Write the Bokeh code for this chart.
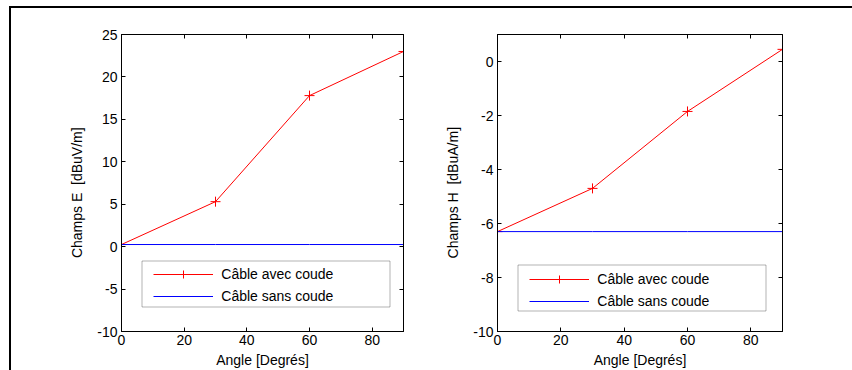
from bokeh.plotting import figure
from bokeh.models import Range1d, FixedTicker, LinearAxis, Legend, LegendItem, BoxAnnotation
from bokeh.layouts import row
from bokeh.embed import file_html
from bokeh.resources import INLINE

# ---- data ----
angles = [0, 30, 60, 90]
e_avec = [0.25, 5.3, 17.8, 23.0]
e_sans = [0.25, 0.25, 0.25, 0.25]
h_avec = [-6.3, -4.7, -1.85, 0.45]
h_sans = [-6.3, -6.3, -6.3, -6.3]
x_ticks = [0, 20, 40, 60, 80]
e_ticks = [-10, -5, 0, 5, 10, 15, 20, 25]
h_ticks = [-10, -8, -6, -4, -2, 0]
label_avec = "Câble avec coude"
label_sans = "Câble sans coude"
xlabel = "Angle [Degrés]"
ylabel_e = "Champs E\u00a0 [dBuV/m]"
ylabel_h = "Champs H\u00a0 [dBuA/m]"

FONT = "Liberation Sans"
FS = "14px"
PAD = "\u00a0" * 5


def style_axis(ax, ticks, show_labels=True):
    ax.ticker = FixedTicker(ticks=ticks)
    ax.major_label_overrides = {t: str(t) for t in ticks}
    ax.major_tick_in = 4
    ax.major_tick_out = 0
    ax.minor_tick_line_color = None
    ax.axis_line_color = "black"
    ax.major_tick_line_color = "black"
    ax.major_label_text_font = FONT
    ax.major_label_text_font_size = FS
    ax.major_label_text_color = "black" if show_labels else None
    ax.axis_label_text_font = FONT
    ax.axis_label_text_font_size = FS
    ax.axis_label_text_font_style = "normal"
    ax.axis_label_text_color = "black"


def make(ylab, y_avec, y_sans, yrange, yticks, ml, mr, fw, box, leg_loc, spacing):
    p = figure(output_backend="svg", toolbar_location=None,
               frame_width=fw, frame_height=297,
               min_border_left=ml, min_border_right=mr,
               min_border_top=26, min_border_bottom=39,
               x_range=Range1d(0, 90), y_range=Range1d(*yrange),
               background_fill_color="white", border_fill_color="white")
    p.grid.visible = False
    p.outline_line_color = "black"
    p.outline_line_width = 1

    r1 = p.line(angles, y_avec, line_color="red", line_width=1)
    r2 = p.scatter(angles, y_avec, marker="cross", size=10, line_color="red", line_width=1)
    r3 = p.line(angles, y_sans, line_color="blue", line_width=1)

    xa = p.xaxis[0]
    ya = p.yaxis[0]
    style_axis(xa, x_ticks)
    style_axis(ya, yticks)
    xa.axis_label = xlabel
    ya.axis_label = ylab + PAD
    xa.major_label_standoff = 3
    xa.axis_label_standoff = 4
    ya.major_label_standoff = 4
    ya.axis_label_standoff = 9

    ra = LinearAxis()
    style_axis(ra, yticks, show_labels=False)
    p.add_layout(ra, "right")
    ta = LinearAxis()
    style_axis(ta, x_ticks, show_labels=False)
    p.add_layout(ta, "above")

    l, r, b, t = box
    bx = BoxAnnotation(left=l, right=r, bottom=b, top=t,
                       left_units="screen", right_units="screen",
                       bottom_units="screen", top_units="screen",
                       fill_color="white", fill_alpha=1.0,
                       line_color="black", line_width=1, level="annotation")
    p.add_layout(bx)

    leg = Legend(items=[LegendItem(label=label_avec, renderers=[r1, r2]),
                        LegendItem(label=label_sans, renderers=[r3])],
                 location=leg_loc, padding=2, spacing=spacing,
                 glyph_width=60, glyph_height=20, label_height=20,
                 label_standoff=8,
                 label_text_font=FONT, label_text_font_size=FS,
                 label_text_color="black",
                 border_line_color=None, background_fill_alpha=0)
    p.add_layout(leg)
    return p


p1 = make(ylabel_e, e_avec, e_sans, (-10, 25), e_ticks, 110, 39, 282,
          (20.5, 268.5, 24.5, 70.5), (32.3, 24.7), 2)
p2 = make(ylabel_h, h_avec, h_sans, (-10, 1), h_ticks, 47, 70, 285,
          (20.5, 268.5, 20.5, 66.5), (32.3, 19.7), 2)

layout = row(p1, p2, styles={"border-top": "2px solid black",
                             "border-left": "2px solid black",
                             "margin-top": "6px",
                             "margin-left": "9px",
                             "background-color": "white"})

open("out.html", "w").write(file_html(layout, INLINE))
